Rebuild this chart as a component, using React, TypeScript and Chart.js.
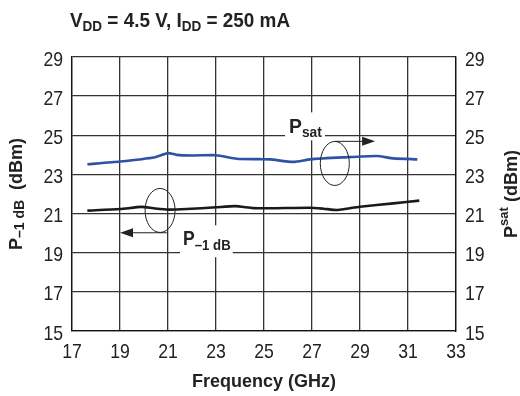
import React, { useEffect, useRef } from "react";
import { Chart, registerables } from "chart.js";

Chart.register(...registerables);

const FONT = "'Liberation Sans', Arial, sans-serif";

// Saturated output power (right axis)
const psatFreq = [17.64, 19.0, 20.46, 21.0, 21.36, 22.05, 23.0, 23.86, 24.83, 25.25, 26.22, 26.92, 28.3, 29.7, 30.4, 31.39];
const psatVals = [23.52, 23.66, 23.88, 24.09, 24.0, 23.97, 23.98, 23.8, 23.78, 23.77, 23.64, 23.77, 23.87, 23.94, 23.82, 23.77];

// P-1dB (left axis)
const p1dbFreq = [17.64, 19.0, 19.9, 20.39, 21.0, 21.78, 23.0, 23.8, 24.55, 25.25, 26.9, 27.47, 28.03, 28.45, 29.0, 30.39, 31.47];
const p1dbVals = [21.15, 21.23, 21.34, 21.27, 21.2, 21.23, 21.32, 21.38, 21.28, 21.27, 21.3, 21.25, 21.18, 21.25, 21.35, 21.52, 21.66];

const xMin = 17, xMax = 33, xStep = 2;
const yMin = 15, yMax = 29, yStep = 2;

type Part = { t: string; s: number; dy: number; w?: string };

function richWidth(ctx: CanvasRenderingContext2D, parts: Part[], sx = 1) {
  let w = 0;
  for (const p of parts) {
    ctx.font = `${p.w ?? "bold"} ${p.s}px ${FONT}`;
    w += ctx.measureText(p.t).width * sx;
  }
  return w;
}

function drawRich(ctx: CanvasRenderingContext2D, parts: Part[], x: number, y: number, sx = 1) {
  let cx = x;
  ctx.textAlign = "left";
  ctx.textBaseline = "alphabetic";
  for (const p of parts) {
    ctx.font = `${p.w ?? "bold"} ${p.s}px ${FONT}`;
    ctx.save();
    ctx.translate(cx, y + p.dy);
    ctx.scale(sx, 1);
    ctx.fillText(p.t, 0, 0);
    ctx.restore();
    cx += ctx.measureText(p.t).width * sx;
  }
  return cx - x;
}

const decorPlugin = {
  id: "decor",
  afterDraw(chart: any) {
    const ctx: CanvasRenderingContext2D = chart.ctx;
    const xs = chart.scales.x;
    const ys = chart.scales.y;
    const ys2 = chart.scales.y2;
    const ca = chart.chartArea;
    ctx.save();
    ctx.fillStyle = "#222";

    // Tick labels (condensed look)
    const tsx = 0.84;
    const tickPart = (t: string): Part[] => [{ t, s: 21, dy: 0, w: "normal" }];
    for (const tk of xs.ticks) {
      const label = String(tk.value);
      const w = richWidth(ctx, tickPart(label), tsx);
      drawRich(ctx, tickPart(label), xs.getPixelForValue(tk.value) - w / 2, 358, tsx);
    }
    for (const tk of ys.ticks) {
      const label = String(tk.value);
      const w = richWidth(ctx, tickPart(label), tsx);
      drawRich(ctx, tickPart(label), ca.left - 9 - w, ys.getPixelForValue(tk.value) + 8.5, tsx);
    }
    for (const tk of ys2.ticks) {
      const label = String(tk.value);
      drawRich(ctx, tickPart(label), ca.right + 9, ys2.getPixelForValue(tk.value) + 8.5, tsx);
    }

    // Title
    const titleParts: Part[] = [
      { t: "V", s: 21, dy: 0 },
      { t: "DD", s: 15, dy: 4 },
      { t: " = 4.5 V, I", s: 21, dy: 0 },
      { t: "DD", s: 15, dy: 4 },
      { t: " = 250 mA", s: 21, dy: 0 },
    ];
    drawRich(ctx, titleParts, 70, 27, 0.9);

    // X axis title
    const xt: Part[] = [{ t: "Frequency (GHz)", s: 18, dy: 0 }];
    const xw = richWidth(ctx, xt);
    drawRich(ctx, xt, (ca.left + ca.right) / 2 - xw / 2, 387);

    // Left axis title
    const lt: Part[] = [
      { t: "P", s: 18, dy: 0 },
      { t: "\u20131 dB", s: 14, dy: 2 },
      { t: "  (dBm)", s: 18, dy: 0 },
    ];
    const lw = richWidth(ctx, lt);
    ctx.save();
    ctx.translate(22, (ca.top + ca.bottom) / 2);
    ctx.rotate(-Math.PI / 2);
    drawRich(ctx, lt, -lw / 2, 0);
    ctx.restore();

    // Right axis title
    const rt: Part[] = [
      { t: "P", s: 18, dy: 0 },
      { t: "sat", s: 13, dy: -9 },
      { t: " (dBm)", s: 18, dy: 0 },
    ];
    const rw = richWidth(ctx, rt);
    ctx.save();
    ctx.translate(517, (ca.top + ca.bottom) / 2);
    ctx.rotate(-Math.PI / 2);
    drawRich(ctx, rt, -rw / 2, 0);
    ctx.restore();

    // Psat annotation
    ctx.strokeStyle = "#222";
    ctx.lineWidth = 1;
    const ex1 = xs.getPixelForValue(27.95), ey1 = ys.getPixelForValue(23.56);
    ctx.beginPath();
    ctx.ellipse(ex1, ey1, 14.5, 22, 0, 0, Math.PI * 2);
    ctx.stroke();
    const ay1 = ys.getPixelForValue(24.69);
    const ax1a = xs.getPixelForValue(27.96), ax1b = xs.getPixelForValue(29.63);
    ctx.beginPath();
    ctx.moveTo(ax1a, ay1);
    ctx.lineTo(ax1b - 10, ay1);
    ctx.stroke();
    ctx.beginPath();
    ctx.moveTo(ax1b, ay1);
    ctx.lineTo(ax1b - 13, ay1 - 4.5);
    ctx.lineTo(ax1b - 13, ay1 + 4.5);
    ctx.closePath();
    ctx.fill();
    const bx1 = xs.getPixelForValue(25.875), by1 = ys.getPixelForValue(26.17);
    const bx1b = xs.getPixelForValue(27.54), by1b = ys.getPixelForValue(24.74);
    ctx.fillStyle = "#fff";
    ctx.fillRect(bx1, by1, bx1b - bx1, by1b - by1);
    ctx.fillStyle = "#222";
    drawRich(ctx, [{ t: "P", s: 21, dy: 0 }, { t: "sat", s: 15, dy: 4 }], bx1 + 4, by1 + 21, 0.92);

    // P-1dB annotation
    const ex2 = xs.getPixelForValue(20.67), ey2 = ys.getPixelForValue(21.16);
    ctx.beginPath();
    ctx.ellipse(ex2, ey2, 15, 22, 0, 0, Math.PI * 2);
    ctx.stroke();
    const ay2 = ys.getPixelForValue(20.02);
    const ax2a = xs.getPixelForValue(20.95), ax2b = xs.getPixelForValue(19.0);
    ctx.beginPath();
    ctx.moveTo(ax2a, ay2);
    ctx.lineTo(ax2b + 10, ay2);
    ctx.stroke();
    ctx.beginPath();
    ctx.moveTo(ax2b, ay2);
    ctx.lineTo(ax2b + 13, ay2 - 4.5);
    ctx.lineTo(ax2b + 13, ay2 + 4.5);
    ctx.closePath();
    ctx.fill();
    const bx2 = xs.getPixelForValue(21.5), by2 = ys.getPixelForValue(20.4);
    const bx2b = xs.getPixelForValue(23.7), by2b = ys.getPixelForValue(18.77);
    ctx.fillStyle = "#fff";
    ctx.fillRect(bx2, by2, bx2b - bx2, by2b - by2);
    ctx.fillStyle = "#222";
    drawRich(ctx, [{ t: "P", s: 20, dy: 0 }, { t: "\u20131 dB", s: 15, dy: 5 }], bx2 + 3, by2 + 20, 0.88);

    ctx.restore();
  },
};

export default function App() {
  const ref = useRef<HTMLCanvasElement | null>(null);
  useEffect(() => {
    if (!ref.current) return;
    const gridColor = "#333";
    const chart = new Chart(ref.current, {
      type: "line",
      data: {
        datasets: [
          {
            label: "Psat",
            data: psatFreq.map((f, i) => ({ x: f, y: psatVals[i] })),
            borderColor: "#2f52a4",
            borderWidth: 2.6,
            pointRadius: 0,
            tension: 0.2,
            yAxisID: "y2",
          },
          {
            label: "P-1dB",
            data: p1dbFreq.map((f, i) => ({ x: f, y: p1dbVals[i] })),
            borderColor: "#1a1a1a",
            borderWidth: 2.6,
            pointRadius: 0,
            tension: 0.2,
            yAxisID: "y",
          },
        ],
      },
      options: {
        animation: false,
        responsive: false,
        devicePixelRatio: 1,
        layout: { padding: { top: 57, left: 0, right: 0, bottom: 0 } },
        plugins: { legend: { display: false }, tooltip: { enabled: false }, title: { display: false } },
        scales: {
          x: {
            type: "linear",
            min: xMin,
            max: xMax,
            ticks: { stepSize: xStep, display: false },
            grid: { color: gridColor, lineWidth: 1.3, drawTicks: false },
            border: { color: "#111", width: 1.3 },
            afterFit: (s: any) => { s.height = 65; },
          },
          y: {
            position: "left",
            min: yMin,
            max: yMax,
            ticks: { stepSize: yStep, display: false },
            grid: { color: gridColor, lineWidth: 1.3, drawTicks: false },
            border: { color: "#111", width: 1.3 },
            afterFit: (s: any) => { s.width = 72; },
          },
          y2: {
            position: "right",
            min: yMin,
            max: yMax,
            ticks: { stepSize: yStep, display: false },
            grid: { drawOnChartArea: false, drawTicks: false },
            border: { color: "#111", width: 1.3 },
            afterFit: (s: any) => { s.width = 64; },
          },
        },
      },
      plugins: [decorPlugin],
    });
    return () => chart.destroy();
  }, []);
  return (
    <div style={{ position: "fixed", left: 0, top: 0, width: 520, height: 396, background: "#fff" }}>
      <canvas ref={ref} width={520} height={396} style={{ display: "block" }} />
    </div>
  );
}
